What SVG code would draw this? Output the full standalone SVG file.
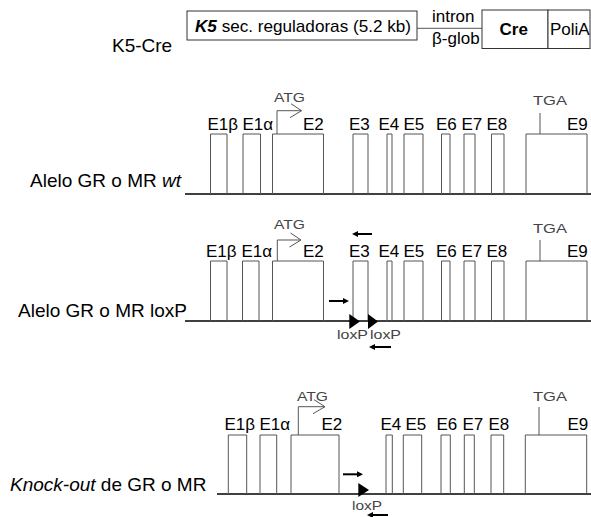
<svg xmlns="http://www.w3.org/2000/svg" width="591" height="517" viewBox="0 0 591 517">
<defs>
<style>
text{font-family:"Liberation Sans",Arial,sans-serif;fill:#000}
.lbl{font-size:19px}
.ex{font-size:17px}
.g{font-size:13px;fill:#444}
.top{font-size:17px}
.box{fill:none;stroke:#555;stroke-width:1}
.tbox{fill:#fff;stroke:#333;stroke-width:1}
.line{stroke:#000;stroke-width:1.3;fill:none}
.thin{stroke:#555;stroke-width:1;fill:none}
.pr{stroke:#000;stroke-width:2;fill:none;marker-end:url(#ah)}
.lox{fill:#000}
</style>
<marker id="ah" markerWidth="6" markerHeight="6" refX="4" refY="3" orient="auto" markerUnits="userSpaceOnUse">
<path d="M0,0 L6,3 L0,6 z" fill="#000"/>
</marker>
</defs>

<g id="k5cre">
<text class="lbl" x="112" y="52">K5-Cre</text>
<rect class="tbox" x="187" y="11" width="230" height="29"/>
<text class="top" x="195" y="32" textLength="216" lengthAdjust="spacingAndGlyphs"><tspan font-weight="bold" font-style="italic">K5</tspan> sec. reguladoras (5.2 kb)</text>
<line class="thin" x1="417" y1="28.3" x2="482" y2="28.3" stroke="#333"/>
<text class="top" x="432" y="22" font-size="16">intron</text>
<text class="top" x="432" y="44" font-size="16">β-glob</text>
<rect class="tbox" x="482" y="10" width="66" height="38.5"/>
<text class="top" x="499.5" y="35" font-weight="bold">Cre</text>
<rect class="tbox" x="548" y="10" width="42" height="38.5"/>
<text class="top" x="550" y="35">PoliA</text>
</g>

<g id="row-wt">
<text class="lbl" x="30" y="187">Alelo GR o MR <tspan font-style="italic">wt</tspan></text>
<line class="line" x1="185" y1="194" x2="591" y2="194"/>
<path class="box" d="M210.5,194V134H227V194 M243,194V134H260.5V194 M272.5,194V134H323.5V194 M353,194V134H368V194 M387,194V134H392V194 M404,194V134H423V194 M441.5,194V134H450V194 M464,194V134H475V194 M491.5,194V134H504V194 M526,194V134H587V194"/>
<path class="thin" d="M277,134V110.7H301.5 M291,103.7L301.5,110.7L290,117.7"/>
<path class="thin" d="M540,134V113"/>
<text class="g" x="274" y="102" textLength="31" lengthAdjust="spacingAndGlyphs">ATG</text>
<text class="g" x="533" y="105" textLength="34" lengthAdjust="spacingAndGlyphs">TGA</text>
<g class="ex-labels">
<text class="ex" x="207.5" y="129.5">E1β</text>
<text class="ex" x="242.5" y="129.5">E1α</text>
<text class="ex" x="303" y="129.5">E2</text>
<text class="ex" x="349" y="129.5">E3</text>
<text class="ex" x="378.5" y="129.5">E4</text>
<text class="ex" x="403.5" y="129.5">E5</text>
<text class="ex" x="436" y="129.5">E6</text>
<text class="ex" x="461.5" y="129.5">E7</text>
<text class="ex" x="486.5" y="129.5">E8</text>
<text class="ex" x="567" y="129.5">E9</text>
</g>
</g>

<g id="row-loxp">
<text class="lbl" x="18" y="317">Alelo GR o MR loxP</text>
<line class="line" x1="185" y1="321" x2="591" y2="321"/>
<path class="box" d="M210.5,321V261H227V321 M242.5,321V261H259V321 M272.5,321V261H323.5V321 M353,321V261H368V321 M387,321V261H392V321 M404,321V261H423V321 M441.5,321V261H450V321 M464,321V261H475V321 M491.5,321V261H504V321 M526,321V261H587V321"/>
<path class="thin" d="M277.3,261V240H301 M290.5,233L301,240L289.5,247"/>
<path class="thin" d="M540,261V240"/>
<text class="g" x="274" y="228.5" textLength="31" lengthAdjust="spacingAndGlyphs">ATG</text>
<text class="g" x="533" y="232.5" textLength="34" lengthAdjust="spacingAndGlyphs">TGA</text>
<path class="lox" d="M349.3,314V329L360,321.5z M368,314V329L378,321.5z"/>
<text class="g" x="337" y="338.5" textLength="31" lengthAdjust="spacingAndGlyphs">loxP</text>
<text class="g" x="370" y="338.5" textLength="31" lengthAdjust="spacingAndGlyphs">loxP</text>
<text class="ex" x="206" y="256.5">E1β</text>
<text class="ex" x="241.5" y="256.5">E1α</text>
<text class="ex" x="303" y="256.5">E2</text>
<text class="ex" x="349" y="256.5">E3</text>
<text class="ex" x="378.5" y="256.5">E4</text>
<text class="ex" x="403.5" y="256.5">E5</text>
<text class="ex" x="436" y="256.5">E6</text>
<text class="ex" x="461.5" y="256.5">E7</text>
<text class="ex" x="486.5" y="256.5">E8</text>
<text class="ex" x="567" y="256.5">E9</text>
</g>

<g id="row-ko">
<text class="lbl" x="10" y="491"><tspan font-style="italic">Knock-out</tspan> de GR o MR</text>
<line class="line" x1="217" y1="494" x2="591" y2="494"/>
<path class="box" d="M228.3,494V435H246.7V494 M260,494V435H276.7V494 M291,494V435H339V494 M386,494V435H392.3V494 M403.3,494V435H421.7V494 M441,494V435H450.3V494 M464.3,494V435H474.3V494 M491,494V435H503.7V494 M525.3,494V435H586.7V494"/>
<path class="thin" d="M298.3,435V406.7H325 M314,399.7L325,406.7L313,413.7"/>
<path class="thin" d="M539,435V407"/>
<text class="g" x="297" y="401" textLength="31" lengthAdjust="spacingAndGlyphs">ATG</text>
<text class="g" x="533" y="401" textLength="34" lengthAdjust="spacingAndGlyphs">TGA</text>
<path class="lox" d="M358.3,483V497L369,490z"/>
<text class="g" x="352" y="509.5" textLength="30" lengthAdjust="spacingAndGlyphs">loxP</text>
<text class="ex" x="224.5" y="429.5">E1β</text>
<text class="ex" x="259.5" y="429.5">E1α</text>
<text class="ex" x="321.5" y="429.5">E2</text>
<text class="ex" x="380.5" y="429.5">E4</text>
<text class="ex" x="405.5" y="429.5">E5</text>
<text class="ex" x="436.5" y="429.5">E6</text>
<text class="ex" x="462.5" y="429.5">E7</text>
<text class="ex" x="488.5" y="429.5">E8</text>
<text class="ex" x="567.5" y="429.5">E9</text>
</g>

<g id="primers">
<line class="pr" x1="372" y1="234" x2="354" y2="234"/>
<line class="pr" x1="329" y1="301" x2="347" y2="301"/>
<line class="pr" x1="391" y1="347" x2="371" y2="347"/>
<line class="pr" x1="343" y1="474.3" x2="361" y2="474.3"/>
<line class="pr" x1="388" y1="515" x2="369" y2="515"/>
</g>
</svg>
